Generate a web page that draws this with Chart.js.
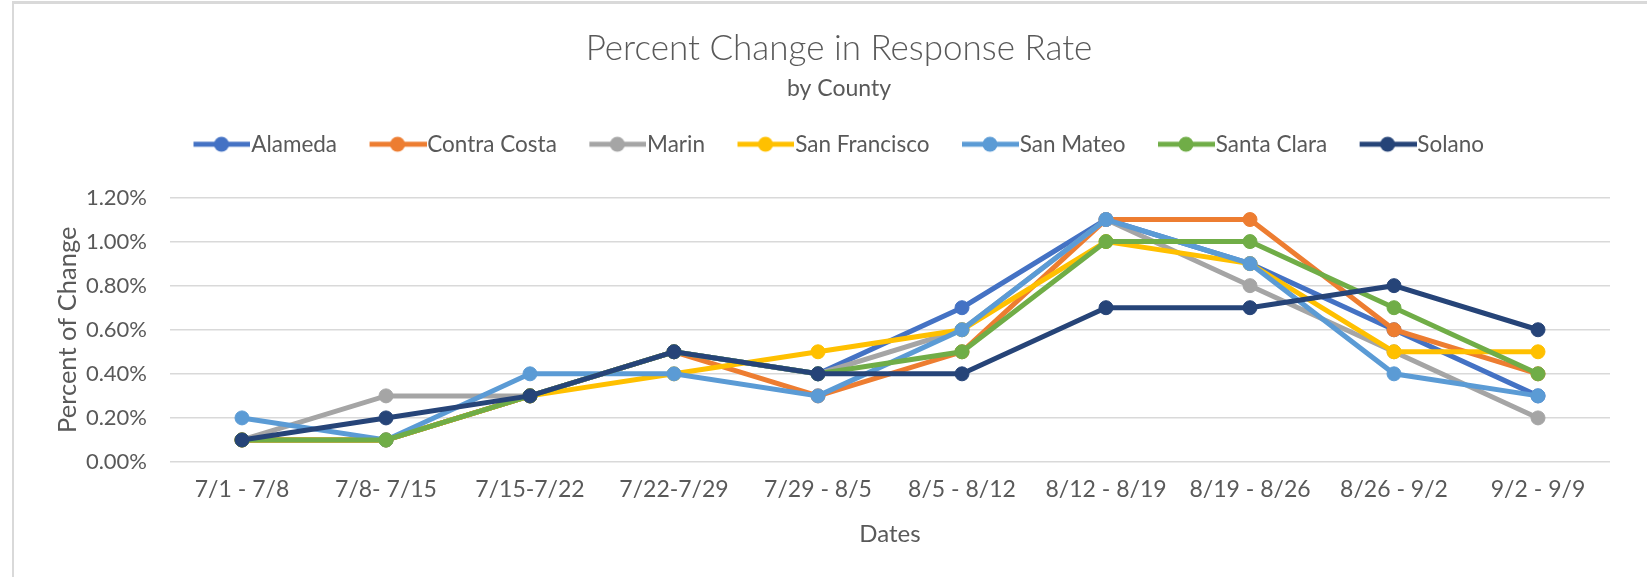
<!DOCTYPE html>
<html>
<head>
<meta charset="utf-8">
<script src="https://cdn.jsdelivr.net/npm/chart.js@4.4.1/dist/chart.umd.min.js"></script>
<style>
  html, body { margin: 0; padding: 0; background: #fff; overflow: hidden; }
  #frame {
    position: absolute; left: 12px; top: 1px;
    width: 1700px; height: 620px;
    border-top: 3px solid #d9d9d9; border-left: 2px solid #d9d9d9;
  }
  #myLineChart { display: block; }
</style>
</head>
<body>
<div id="frame"><canvas id="myLineChart" width="1650" height="573"></canvas></div>
<script>
// weeks on the x axis
const dates = ['7/1 - 7/8', '7/8- 7/15', '7/15-7/22', '7/22-7/29', '7/29 - 8/5',
  '8/5 - 8/12', '8/12 - 8/19', '8/19 - 8/26', '8/26 - 9/2', '9/2 - 9/9'];

// percent change per county
const alameda      = [0.1, 0.1, 0.3, 0.5, 0.4, 0.7, 1.1, 0.9, 0.6, 0.3];
const contraCosta  = [0.1, 0.1, 0.3, 0.5, 0.3, 0.5, 1.1, 1.1, 0.6, 0.4];
const marin        = [0.1, 0.3, 0.3, 0.5, 0.4, 0.6, 1.1, 0.8, 0.5, 0.2];
const sanFrancisco = [0.1, 0.1, 0.3, 0.4, 0.5, 0.6, 1.0, 0.9, 0.5, 0.5];
const sanMateo     = [0.2, 0.1, 0.4, 0.4, 0.3, 0.6, 1.1, 0.9, 0.4, 0.3];
const santaClara   = [0.1, 0.1, 0.3, 0.5, 0.4, 0.5, 1.0, 1.0, 0.7, 0.4];
const solano       = [0.1, 0.2, 0.3, 0.5, 0.4, 0.4, 0.7, 0.7, 0.8, 0.6];

const counties = ['Alameda', 'Contra Costa', 'Marin', 'San Francisco', 'San Mateo', 'Santa Clara', 'Solano'];
const values = [alameda, contraCosta, marin, sanFrancisco, sanMateo, santaClara, solano];
const colors = ['#4472C4', '#ED7D31', '#A5A5A5', '#FFC000', '#5B9BD5', '#70AD47', '#264478'];

const textColor = '#595959';
const fontFamily = 'Lato, "Open Sans", sans-serif';

// legend marker: line with a dot, left 10px kept empty so it lines up with the item start
function legendMarker(color) {
    const c = document.createElement('canvas');
    c.width = 67;
    c.height = 18;
    const ctx = c.getContext('2d');
    ctx.strokeStyle = color;
    ctx.lineWidth = 5;
    ctx.beginPath();
    ctx.moveTo(10, 9);
    ctx.lineTo(67, 9);
    ctx.stroke();
    ctx.fillStyle = color;
    ctx.beginPath();
    ctx.arc(38, 9, 7.5, 0, Math.PI * 2);
    ctx.fill();
    return c;
}

const datasets = counties.map((name, i) => ({
    label: name,
    data: values[i],
    borderColor: colors[i],
    backgroundColor: colors[i],
    pointBackgroundColor: colors[i],
    pointBorderColor: colors[i],
    borderWidth: 5,
    pointRadius: 7,
    pointBorderWidth: 1,
    pointStyle: 'circle',
    legendStyle: legendMarker(colors[i]),
    order: counties.length - i   // later series drawn on top, like the original
}));

// extra room between legend and plot
const legendGap = {
    id: 'legendGap',
    beforeInit(chart) {
        const fit = chart.legend.fit;
        chart.legend.fit = function () {
            fit.bind(chart.legend)();
            this.height += 32;
        };
    }
};

new Chart(document.querySelector('#myLineChart'), {
    type: 'line',
    data: { labels: dates, datasets: datasets },
    plugins: [legendGap],
    options: {
        responsive: false,
        animation: false,
        layout: { padding: { left: 54, right: 54, top: 0, bottom: 28.6 } },
        plugins: {
            title: {
                display: true,
                text: 'Percent Change in Response Rate',
                color: textColor,
                font: { family: fontFamily, size: 35, weight: '300', lineHeight: 1 },
                padding: { top: 27.5, bottom: 4 }
            },
            subtitle: {
                display: true,
                text: 'by County',
                color: textColor,
                font: { family: fontFamily, size: 23, lineHeight: 1 },
                padding: { top: 6.5, bottom: 0 }
            },
            legend: {
                reverse: true,
                labels: {
                    color: textColor,
                    font: { family: fontFamily, size: 22.5 },
                    usePointStyle: true,
                    pointStyleWidth: 46,
                    padding: 33,
                    generateLabels(chart) {
                        const items = Chart.defaults.plugins.legend.labels.generateLabels(chart);
                        items.forEach(it => { it.pointStyle = chart.data.datasets[it.datasetIndex].legendStyle; });
                        return items;
                    }
                }
            },
            tooltip: { enabled: false }
        },
        scales: {
            x: {
                offset: true,
                grid: { display: false, drawTicks: false },
                border: { display: false },
                ticks: { color: textColor, font: { family: fontFamily, size: 23 }, padding: 14, maxRotation: 0, autoSkip: false },
                title: {
                    display: true, text: 'Dates', color: textColor,
                    font: { family: fontFamily, size: 24 }, padding: { top: 2, bottom: 0 }
                }
            },
            y: {
                min: 0,
                max: 1.2,
                grid: { color: '#d9d9d9', lineWidth: 1.5, drawTicks: false },
                border: { display: false },
                ticks: {
                    stepSize: 0.2,
                    padding: 23,
                    color: textColor,
                    font: { family: fontFamily, size: 22 },
                    callback: v => v.toFixed(2) + '%'
                },
                title: {
                    display: true, text: 'Percent of Change', color: textColor,
                    font: { family: fontFamily, size: 25.5 }, padding: { top: -15.3, bottom: 0 }
                },
                afterFit(scale) { scale.width = 102; }
            }
        }
    }
});
</script>
</body>
</html>
